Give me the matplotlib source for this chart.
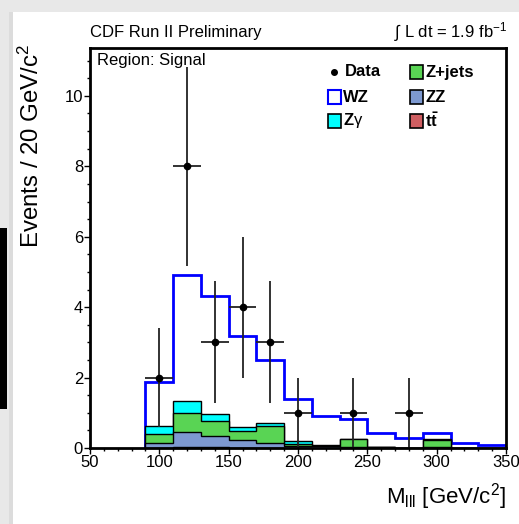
import numpy as np
import matplotlib
matplotlib.use("Agg")
import matplotlib.pyplot as plt
from matplotlib.patches import Rectangle
from matplotlib.lines import Line2D

plt.rcParams['font.family'] = ['Liberation Sans', 'DejaVu Sans']
plt.rcParams['mathtext.fontset'] = 'custom'
plt.rcParams['mathtext.rm'] = 'Liberation Sans'
plt.rcParams['mathtext.it'] = 'Liberation Sans:italic'
plt.rcParams['mathtext.bf'] = 'Liberation Sans:bold'

# ---- data ----
bin_edges = [90, 110, 130, 150, 170, 190, 210, 230, 250, 270, 290, 310, 330, 350]
ttbar = [0.01, 0.04, 0.02, 0.01, 0.01, 0.0, 0.0, 0.0, 0.0, 0.0, 0.0, 0.0, 0.0]
zz    = [0.12, 0.41, 0.33, 0.21, 0.14, 0.07, 0.05, 0.03, 0.02, 0.01, 0.02, 0.01, 0.01]
zjets = [0.26, 0.53, 0.43, 0.26, 0.47, 0.05, 0.02, 0.23, 0.01, 0.0, 0.22, 0.0, 0.0]
zgamma = [0.24, 0.36, 0.19, 0.13, 0.10, 0.08, 0.01, 0.0, 0.0, 0.0, 0.02, 0.0, 0.0]
wz    = [1.25, 3.56, 3.35, 2.57, 1.78, 1.18, 0.84, 0.55, 0.39, 0.26, 0.16, 0.14, 0.08]

data_x = [100, 120, 140, 160, 180, 200, 240, 280]
data_y = [2, 8, 3, 4, 3, 1, 1, 1]

W, H = 519, 524
fig = plt.figure(figsize=(W / 100, H / 100), dpi=100)
fig.patch.set_facecolor('#e8e8e8')

def fx(x):
    return x / W

def fy(y):
    return 1 - y / H

# background panels
fig.add_artist(Rectangle((fx(13), 0), 1 - fx(13), fy(12), transform=fig.transFigure,
                         facecolor='white', edgecolor='none', zorder=0))
fig.add_artist(Rectangle((fx(9), 0), fx(4), fy(12), transform=fig.transFigure,
                         facecolor='#dcdcdc', edgecolor='none', zorder=0))
fig.add_artist(Rectangle((0, fy(409)), fx(7), fy(228) - fy(409), transform=fig.transFigure,
                         facecolor='black', edgecolor='none', zorder=0))

ax = fig.add_axes([fx(90), fy(448), fx(506) - fx(90), fy(48) - fy(448)])
ax.set_xlim(50, 350)
ax.set_ylim(0, 11.36)

edges = np.array(bin_edges, dtype=float)
c1 = np.array(ttbar)
c2 = c1 + np.array(zz)
c3 = c2 + np.array(zjets)
c4 = c3 + np.array(zgamma)
c5 = c4 + np.array(wz)

ax.stairs(c5, edges, baseline=0, fill=False, color='#0000ff', linewidth=2, zorder=2)
ax.stairs(c4, edges, baseline=0, fill=True, facecolor='#00ffff', edgecolor='black', linewidth=1, zorder=3)
ax.stairs(c3, edges, baseline=0, fill=True, facecolor='#59d454', edgecolor='black', linewidth=1, zorder=4)
ax.stairs(c2, edges, baseline=0, fill=True, facecolor='#7d99d1', edgecolor='black', linewidth=1, zorder=5)
ax.stairs(c1, edges, baseline=0, fill=True, facecolor='#cf5e61', edgecolor='black', linewidth=1, zorder=6)

dy = np.sqrt(np.array(data_y, dtype=float))
ax.errorbar(data_x, data_y, yerr=dy, xerr=10, fmt='o', color='black', ecolor='#222222',
            markersize=4.5, elinewidth=1.3, capsize=0, zorder=10)

for s in ax.spines.values():
    s.set_linewidth(2)
    s.set_zorder(20)

ax.set_xticks([50, 100, 150, 200, 250, 300, 350])
ax.set_xticks(np.arange(50, 351, 10), minor=True)
ax.set_yticks([0, 2, 4, 6, 8, 10])
ax.set_yticks(np.arange(0, 11.4, 0.5), minor=True)
ax.tick_params(axis='both', which='major', direction='out', length=4, width=1, labelsize=12, pad=1)
ax.tick_params(axis='both', which='minor', direction='out', length=2.5, width=1)

fig.text(fx(31), fy(44), 'Events / 20 GeV/c$^{2}$', rotation=90, ha='center', va='top', fontsize=17.3)
fig.text(fx(506), fy(503), r'M$_{\rm lll}$ [GeV/c$^{2}$]', ha='right', va='baseline', fontsize=16)
fig.text(fx(90), fy(37), 'CDF Run II Preliminary', ha='left', va='baseline', fontsize=12)
fig.text(fx(507), fy(37), r'$\int$ L dt = 1.9 fb$^{-1}$', ha='right', va='baseline', fontsize=12)
fig.text(fx(97), fy(65), 'Region: Signal', ha='left', va='baseline', fontsize=12)

# legend (manual)
rows = [72, 97, 121]
col_box = [328, 410]
bw, bh = 13, 14
entries = [
    (0, 0, 'Data', None, None),
    (0, 1, 'WZ', 'white', '#0000ff'),
    (0, 2, r'$\mathbf{Z}\mathrm{\gamma}$', '#00ffff', 'black'),
    (1, 0, 'Z+jets', '#59d454', 'black'),
    (1, 1, 'ZZ', '#7d99d1', 'black'),
    (1, 2, r'$\mathbf{t\bar{t}}$', '#cf5e61', 'black'),
]
for col, row, label, fc, ec in entries:
    x0 = col_box[col]
    yc = rows[row]
    if fc is None:
        fig.add_artist(Line2D([fx(x0 + 6)], [fy(yc)], marker='o', markersize=4, color='black',
                              transform=fig.transFigure))
        tx = x0 + 17
    else:
        fig.add_artist(Rectangle((fx(x0), fy(yc + bh / 2)), fx(bw), fy(yc - bh / 2) - fy(yc + bh / 2),
                                 transform=fig.transFigure, facecolor=fc, edgecolor=ec,
                                 linewidth=1.5 if ec != 'black' else 1.2, zorder=30))
        tx = x0 + bw + 2
    fig.text(fx(tx), fy(yc), label, ha='left', va='center', fontsize=12, fontweight='bold', zorder=30)

fig.savefig('out.png', dpi=100, facecolor=fig.get_facecolor())
